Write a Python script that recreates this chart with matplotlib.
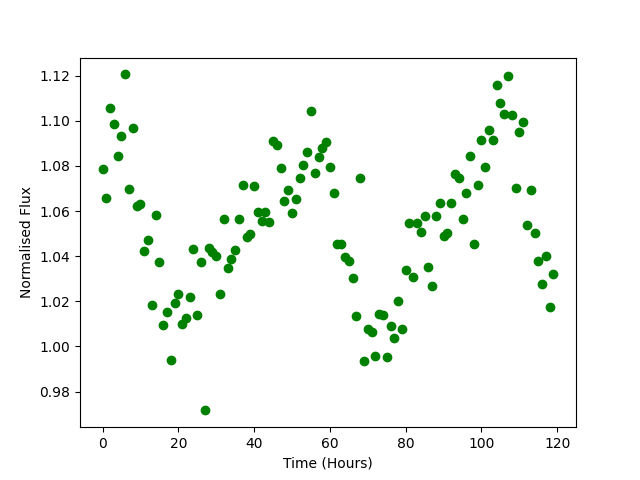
import matplotlib
matplotlib.use("Agg")
import matplotlib.pyplot as plt

# hourly samples, 0..119
time_hours = list(range(120))

normalised_flux = [
    1.0787, 1.0659, 1.1057, 1.0986, 1.0845, 1.0933, 1.1205, 1.0699, 1.0966, 1.0622,
    1.0632, 1.0424, 1.0473, 1.0185, 1.0584, 1.0372, 1.0097, 1.0154, 0.9942, 1.0194,
    1.0234, 1.0101, 1.0128, 1.0221, 1.0433, 1.0141, 1.0372, 0.9717, 1.0434, 1.0420,
    1.0402, 1.0234, 1.0566, 1.0349, 1.0389, 1.0429, 1.0566, 1.0713, 1.0483, 1.0496,
    1.0709, 1.0594, 1.0557, 1.0594, 1.0553, 1.0909, 1.0892, 1.0792, 1.0644, 1.0694,
    1.0589, 1.0654, 1.0747, 1.0805, 1.0862, 1.1044, 1.0769, 1.0840, 1.0881, 1.0904,
    1.0796, 1.0681, 1.0455, 1.0455, 1.0398, 1.0380, 1.0305, 1.0136, 1.0747, 0.9937,
    1.0077, 1.0063, 0.9959, 1.0145, 1.0141, 0.9955, 1.0089, 1.0039, 1.0203, 1.0079,
    1.0337, 1.0545, 1.0309, 1.0545, 1.0508, 1.0576, 1.0353, 1.0269, 1.0580, 1.0637,
    1.0491, 1.0501, 1.0634, 1.0766, 1.0744, 1.0566, 1.0678, 1.0845, 1.0452, 1.0713,
    1.0916, 1.0796, 1.0957, 1.0916, 1.1159, 1.1079, 1.1031, 1.1200, 1.1026, 1.0704,
    1.0948, 1.0995, 1.0536, 1.0694, 1.0501, 1.0380, 1.0275, 1.0402, 1.0173, 1.0319,
]

fig = plt.figure(figsize=(6.4, 4.8), dpi=100)
plt.plot(time_hours, normalised_flux, "o", color="green")
plt.xlabel("Time (Hours)")
plt.ylabel("Normalised Flux")
plt.savefig("out.png", dpi=100)
